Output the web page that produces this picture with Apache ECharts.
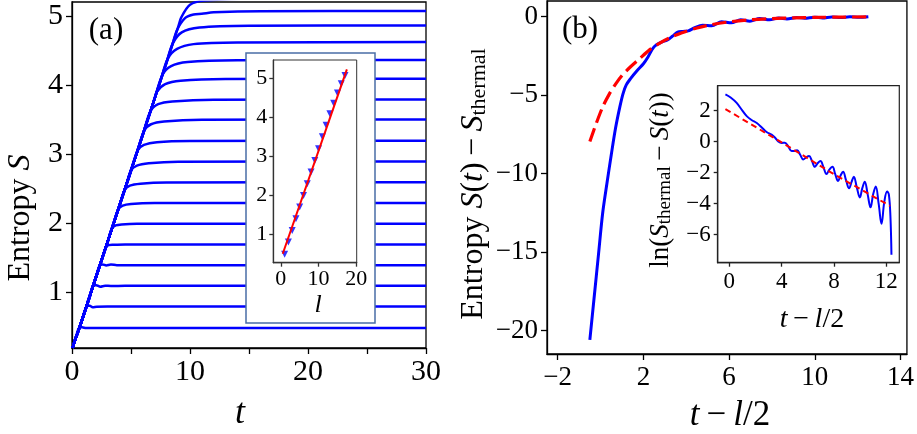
<!DOCTYPE html>
<html><head><meta charset="utf-8">
<script src="https://cdn.jsdelivr.net/npm/echarts@6/dist/echarts.min.js"></script>
<style>html,body{margin:0;padding:0;background:#fff}#c{width:917px;height:434px}</style>
</head><body><div id="c"></div>
<script>
// ---------- Panel (a): S(t) curves ----------
const rampA = [[0.05,0.19],[0.25,0.3],[0.5,0.42],[0.8,0.57],[1.2,0.78],[1.6,0.99],[2.0,1.2],[2.5,1.46],[3.0,1.72],[3.5,1.98],[4.0,2.24],[4.5,2.5],[5.0,2.76],[5.5,3.02],[6.0,3.28],[6.5,3.54],[7.0,3.8],[7.5,4.06],[8.0,4.32],[8.5,4.58],[9.0,4.84],[9.5,5.1],[10.0,5.36]];
const bendL1  = [[0.65,0.49],[0.85,0.49],[1.2,0.478],[2,0.48],[30,0.48]];
const bendL2  = [[1.3,0.8],[1.5,0.8],[1.75,0.78],[2.1,0.787],[3,0.79],[30,0.79]];
const bendL3  = [[1.8,1.1],[2.05,1.1],[2.4,1.078],[2.8,1.092],[3.3,1.088],[4.5,1.09],[30,1.09]];
const bendL4  = [[2.35,1.39],[2.6,1.4],[2.9,1.385],[3.3,1.398],[3.8,1.39],[30,1.39]];
const bendL5  = [[2.85,1.64],[3.1,1.68],[3.5,1.685],[4.5,1.69],[30,1.69]];
const bendL6  = [[3.38,1.92],[3.7,1.965],[4.2,1.98],[5.5,1.99],[30,1.99]];
const bendL7  = [[3.9,2.19],[4.3,2.25],[5,2.275],[7,2.288],[30,2.29]];
const bendL8  = [[4.44,2.47],[4.9,2.54],[5.8,2.57],[8,2.587],[30,2.59]];
const bendL9  = [[5.0,2.76],[5.5,2.83],[6.5,2.865],[9,2.887],[30,2.89]];
const bendL10 = [[5.56,3.05],[6.1,3.13],[7.2,3.17],[10,3.187],[30,3.19]];
const bendL11 = [[6.12,3.34],[6.7,3.43],[7.8,3.47],[11,3.495],[30,3.5]];
const bendL12 = [[6.65,3.62],[7.3,3.72],[8.5,3.76],[12,3.786],[30,3.79]];
const bendL13 = [[7.19,3.9],[7.9,4.01],[9.2,4.06],[13,4.086],[30,4.09]];
const bendL14 = [[7.65,4.14],[8.4,4.27],[9.8,4.33],[14,4.356],[30,4.36]];
const bendL15 = [[8.12,4.38],[8.9,4.52],[10.3,4.59],[14,4.615],[30,4.62]];
const bendL16 = [[8.54,4.6],[9.3,4.76],[10.8,4.83],[15,4.856],[30,4.86]];
const bendL17 = [[8.92,4.8],[9.6,4.97],[10.3,5.02],[11,5.03],[12,5.05],[16,5.067],[30,5.07]];
const bendL18 = [[9.27,4.98],[10,5.16],[11.2,5.22],[16,5.25],[30,5.25]];
const bendsA = [bendL1,bendL2,bendL3,bendL4,bendL5,bendL6,bendL7,bendL8,bendL9,bendL10,bendL11,bendL12,bendL13,bendL14,bendL15,bendL16,bendL17,bendL18];

// inset (a): saturation entropy vs l
const insetL = [1,2,3,4,5,6,7,8,9,10,11,12,13,14,15,16,17];
const insetS = [0.48,0.79,1.09,1.39,1.69,1.99,2.29,2.59,2.89,3.19,3.5,3.79,4.09,4.36,4.62,4.86,5.07];
const insetFit = [[0.5,0.49],[17.5,5.23]];

// ---------- Panel (b) ----------
const blueB = [[-0.5,-20.6],[-0.3,-17.9],[-0.1,-15.2],[0.1,-12.5],[0.3,-10.6],[0.5,-8.8],[0.7,-7.1],[0.9,-5.75],[1.05,-4.9],[1.2,-4.35],[1.4,-3.95],[1.7,-3.45],[2.0,-3.0],[2.2,-2.6],[2.4,-2.1],[2.6,-1.8],[2.88,-1.6],[3.1,-1.5],[3.35,-1.25],[3.6,-0.98],[3.85,-0.94],[4.1,-0.9],[4.4,-0.7],[4.76,-0.55],[5.19,-0.58],[5.65,-0.32],[6.1,-0.39],[6.54,-0.2],[6.97,-0.29],[7.43,-0.12],[7.89,-0.2],[8.32,-0.08],[8.7,-0.14],[9.16,-0.05],[9.52,-0.1],[10.0,-0.03],[10.36,-0.08],[10.8,-0.015],[11.2,-0.055],[11.64,-0.01],[12.07,-0.04],[12.5,0]];
const redB = [[-0.5,-7.96],[-0.2,-6.8],[0.1,-5.75],[0.4,-4.95],[0.7,-4.3],[1.0,-3.75],[1.4,-3.19],[1.8,-2.7],[2.3,-2.1],[2.8,-1.65],[3.3,-1.3],[3.8,-1.02],[4.5,-0.72],[5.2,-0.5],[6,-0.33],[7,-0.2],[8,-0.12],[9,-0.075],[10,-0.045],[11,-0.028],[12.5,-0.012]];
const blueLn = [[-0.3,3.05],[0.1,2.85],[0.56,2.5],[1.0,2.0],[1.33,1.65],[1.7,1.4],[2.1,1.2],[2.5,0.9],[2.85,0.62],[3.23,0.45],[3.5,0.25],[3.74,0.02],[4.0,-0.08],[4.25,-0.07],[4.5,-0.3],[4.76,-0.6],[5.0,-0.6],[5.19,-0.55],[5.42,-0.85],[5.65,-1.15],[5.9,-1.0],[6.1,-0.93],[6.32,-1.25],[6.54,-1.62],[6.75,-1.4],[6.97,-1.25],[7.2,-1.65],[7.43,-2.09],[7.65,-1.8],[7.89,-1.62],[8.1,-2.1],[8.32,-2.54],[8.5,-2.2],[8.7,-1.94],[8.93,-2.5],[9.16,-3.01],[9.35,-2.6],[9.52,-2.26],[9.75,-2.95],[9.98,-3.6],[10.17,-3.0],[10.36,-2.58],[10.58,-3.4],[10.8,-4.24],[11.0,-3.4],[11.2,-2.9],[11.42,-4.0],[11.64,-5.3],[11.85,-3.9],[12.07,-3.22],[12.2,-3.4],[12.32,-4.8],[12.4,-7.3]];
const redLn = [[-0.3,2.1],[4,-0.05],[8,-2.1],[12.3,-4.15]];

// tick values
const ticksXA = [0,5,10,15,20,25,30], labelsXA = [0,10,20,30];
const ticksYA = [1,2,3,4,5];
const ticksXAi = [0,10,20], ticksYAi = [1,2,3,4,5];
const ticksXB = [-2,2,6,10,14], ticksYB = [-20,-15,-10,-5,0];
const ticksXBi = [0,4,8,12], ticksYBi = [-6,-4,-2,0,2];

const F = 'Liberation Serif';
const fmt = v => v < 0 ? '\u2212' + (-v) : String(v);

function ax(grid, min, max, ticks, labels, fs, tlen, margin, color, extra) {
  return Object.assign({
    gridIndex: grid, type: 'value', min: min, max: max,
    axisLine: {show: true, onZero: false, lineStyle: {color: color, width: 1.3}},
    axisTick: {show: true, customValues: ticks, length: tlen, lineStyle: {color: color, width: 1.3}},
    axisLabel: {customValues: labels, fontSize: fs, fontFamily: F, color: '#000', margin: margin, formatter: fmt},
    splitLine: {show: false}
  }, extra || {});
}

const series = [];
bendsA.forEach(function (b) {
  const pts = rampA.filter(p => p[0] < b[0][0] - 0.15).concat(b);
  series.push({type: 'line', xAxisIndex: 0, yAxisIndex: 0, data: pts, showSymbol: false, smooth: 0.3,
    lineStyle: {color: '#0000ff', width: 2.5}, z: 2, silent: true});
});
series.push({type: 'line', xAxisIndex: 1, yAxisIndex: 1, data: insetFit, showSymbol: false,
  lineStyle: {color: '#ff0000', width: 2}, z: 21, silent: true});
series.push({type: 'scatter', xAxisIndex: 1, yAxisIndex: 1, data: insetL.map((l, i) => [l, insetS[i]]),
  symbol: 'triangle', symbolRotate: 180, symbolSize: 7, itemStyle: {color: '#0000ff'}, z: 20, silent: true});
series.push({type: 'line', xAxisIndex: 2, yAxisIndex: 2, data: blueB, showSymbol: false, smooth: 0.3,
  lineStyle: {color: '#0000ff', width: 3}, z: 2, silent: true});
series.push({type: 'line', xAxisIndex: 2, yAxisIndex: 2, data: redB, showSymbol: false, smooth: 0.3,
  lineStyle: {color: '#ff0000', width: 3.2, type: [14, 6]}, z: 3, silent: true});
series.push({type: 'line', xAxisIndex: 3, yAxisIndex: 3, data: blueLn, showSymbol: false, smooth: 0.4,
  lineStyle: {color: '#0000ff', width: 2}, z: 20, silent: true});
series.push({type: 'line', xAxisIndex: 3, yAxisIndex: 3, data: redLn, showSymbol: false,
  lineStyle: {color: '#ff0000', width: 2, type: [6, 4]}, z: 21, silent: true});

const richBase = function (fs, subFs) {
  return {
    n: {fontSize: fs, fontFamily: F, fill: '#000', lineHeight: fs + 8, verticalAlign: 'bottom'},
    i: {fontSize: fs, fontFamily: F, fontStyle: 'italic', fill: '#000', lineHeight: fs + 8, verticalAlign: 'bottom'},
    sub: {fontSize: subFs, fontFamily: F, fill: '#000', lineHeight: subFs, verticalAlign: 'bottom'}
  };
};
function txt(x, y, text, rich, rot) {
  return {type: 'text', x: x, y: y, rotation: rot || 0, z: 50, silent: true,
    style: {text: text, rich: rich, align: 'center', verticalAlign: 'middle', fill: '#000'}};
}

const option = {
  animation: false,
  backgroundColor: '#fff',
  grid: [
    {left: 72, top: 2, width: 354, height: 346, show: true, borderColor: '#000', borderWidth: 1.3, containLabel: false},
    {left: 273.3, top: 60, width: 83.4, height: 202.7, show: true, borderColor: '#333', borderWidth: 1, z: 20},
    {left: 547, top: 1, width: 360, height: 353, show: true, borderColor: '#000', borderWidth: 1.3},
    {left: 717.7, top: 85.7, width: 181.6, height: 177, show: true, borderColor: '#222', borderWidth: 1.2, z: 20}
  ],
  xAxis: [
    ax(0, 0, 30, ticksXA, labelsXA, 30, 6, 9, '#000'),
    ax(1, -2, 20.1, ticksXAi, ticksXAi, 22, 4, 6, '#333', {z: 20}),
    ax(2, -2.5, 14.3, ticksXB, ticksXB, 27, 6, 10, '#000'),
    ax(3, -0.89, 13.0, ticksXBi, ticksXBi, 23, 4, 8, '#222', {z: 20})
  ],
  yAxis: [
    ax(0, 0.19, 5.2, ticksYA, ticksYA, 30, 6, 9, '#000'),
    ax(1, 0.26, 5.47, ticksYAi, ticksYAi, 22, 4, 6, '#333', {z: 20}),
    ax(2, -21.5, 1.0, ticksYB, ticksYB, 27, 6, 9, '#000'),
    ax(3, -7.81, 3.61, ticksYBi, ticksYBi, 23, 4, 7, '#222', {z: 20})
  ],
  series: series,
  graphic: [
    {type: 'rect', shape: {x: 246, y: 53, width: 129, height: 270}, style: {fill: '#fff', stroke: '#4a6da7', lineWidth: 1.5}, z: 10, silent: true},
    txt(106, 27, '{n|(a)}', richBase(31, 20)),
    txt(580, 26, '{n|(b)}', richBase(31, 20)),
    txt(17, 218, '{n|Entropy }{i|S}', richBase(32, 20), Math.PI / 2),
    txt(240, 410, '{i|t}', richBase(36, 20)),
    txt(318, 301, '{i|l}', richBase(26, 18)),
    txt(730, 412, '{i|t}{n|\u2009\u2212\u2009}{i|l}{n|/2}', richBase(35, 20)),
    txt(470, 184, '{n|Entropy }{i|S}{n|(}{i|t}{n|)\u2009\u2212\u2009}{i|S}{sub|thermal}', richBase(32, 22), Math.PI / 2),
    txt(812, 316, '{i|t}{n|\u2009\u2212\u2009}{i|l}{n|/2}', richBase(28, 18)),
    txt(657, 180, '{n|ln(}{i|S}{sub|thermal}{n|\u2009\u2212\u2009}{i|S}{n|(}{i|t}{n|))}', richBase(27, 19), Math.PI / 2)
  ]
};
echarts.init(document.getElementById('c'), null, {renderer: 'canvas'}).setOption(option);
</script></body></html>
